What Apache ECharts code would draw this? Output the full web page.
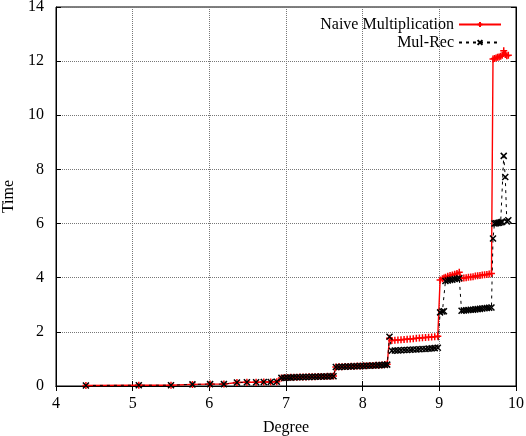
<!DOCTYPE html>
<html>
<head>
<meta charset="utf-8">
<script src="https://cdn.jsdelivr.net/npm/echarts@6/dist/echarts.min.js"></script>
<style>
  html, body { margin: 0; padding: 0; background: #fff; }
  #main { width: 526px; height: 436px; }
</style>
</head>
<body>
<div id="main"></div>
<script>
// x positions as plotted (Degree axis)
var degree = [
  4.39, 5.08, 5.50, 5.78, 6.01, 6.19, 6.36, 6.49, 6.61, 6.71, 6.80, 6.88,
  6.94, 6.98, 7.02, 7.06, 7.10, 7.14, 7.18, 7.22, 7.26, 7.30, 7.34, 7.38, 7.42, 7.46, 7.50, 7.54, 7.58, 7.62,
  7.65, 7.69, 7.73, 7.77, 7.81, 7.85, 7.89, 7.93, 7.97, 8.01, 8.05, 8.09, 8.13, 8.17, 8.21, 8.25, 8.29, 8.32,
  8.35, 8.38, 8.42, 8.46, 8.50, 8.54, 8.58, 8.62, 8.66, 8.70, 8.74, 8.78, 8.82, 8.86, 8.90, 8.94, 8.98,
  9.01, 9.04, 9.06,
  9.08, 9.11, 9.14, 9.17, 9.20, 9.23, 9.26,
  9.29, 9.32, 9.35, 9.38, 9.41, 9.44, 9.47, 9.50, 9.53, 9.56, 9.59, 9.62, 9.65, 9.68,
  9.70, 9.72, 9.74, 9.76, 9.78, 9.80, 9.82, 9.84, 9.86, 9.88, 9.90
];
var naiveTime = [
  0.02, 0.03, 0.03, 0.06, 0.07, 0.07, 0.13, 0.14, 0.14, 0.15, 0.15, 0.16,
  0.30, 0.31, 0.31, 0.32, 0.32, 0.32, 0.33, 0.33, 0.33, 0.34, 0.34, 0.34, 0.35, 0.35, 0.35, 0.36, 0.36, 0.37,
  0.70, 0.71, 0.71, 0.72, 0.72, 0.73, 0.73, 0.74, 0.74, 0.75, 0.75, 0.76, 0.76, 0.77, 0.77, 0.78, 0.79, 0.80,
  1.76, 1.68, 1.69, 1.70, 1.71, 1.72, 1.73, 1.74, 1.75, 1.76, 1.77, 1.78, 1.79, 1.80, 1.81, 1.82, 1.84,
  3.92, 3.96, 3.99,
  4.02, 4.05, 4.08, 4.10, 4.13, 4.16, 4.20,
  3.98, 3.99, 4.00, 4.02, 4.03, 4.04, 4.06, 4.07, 4.08, 4.10, 4.11, 4.12, 4.14, 4.16,
  12.08, 12.10, 12.12, 12.14, 12.15, 12.18, 12.22, 12.38, 12.25, 12.20, 12.22
];
var mulRecTime = [
  0.02, 0.03, 0.03, 0.06, 0.07, 0.07, 0.13, 0.14, 0.14, 0.15, 0.15, 0.16,
  0.30, 0.30, 0.31, 0.31, 0.32, 0.32, 0.32, 0.33, 0.33, 0.33, 0.34, 0.34, 0.34, 0.35, 0.35, 0.35, 0.36, 0.36,
  0.70, 0.70, 0.71, 0.71, 0.72, 0.72, 0.73, 0.73, 0.74, 0.74, 0.75, 0.75, 0.76, 0.76, 0.77, 0.77, 0.78, 0.79,
  1.82, 1.30, 1.31, 1.31, 1.32, 1.33, 1.33, 1.34, 1.35, 1.35, 1.36, 1.37, 1.37, 1.38, 1.39, 1.40, 1.41,
  2.72, 2.75, 2.76,
  3.88, 3.90, 3.92, 3.93, 3.95, 3.96, 3.98,
  2.78, 2.79, 2.80, 2.81, 2.82, 2.82, 2.83, 2.84, 2.85, 2.86, 2.87, 2.88, 2.89, 2.90,
  5.45, 6.00, 6.01, 6.02, 6.03, 6.05, 6.06, 8.50, 7.72, 6.08, 6.12
];
var seriesNames = ['Naive Multiplication', 'Mul-Rec'];

var serif = "'Liberation Serif', 'DejaVu Serif', serif";
var plusSymbol = 'path://M0,5L10,5M5,0L5,10';
var crossSymbol = 'path://M0,0L10,10M10,0L0,10';

function pairs(ys) {
  return degree.map(function (x, i) { return [x, ys[i]]; });
}

var chart = echarts.init(document.getElementById('main'), null, { renderer: 'canvas' });

var gridLine = { show: true, lineStyle: { color: '#777', type: 'dotted', width: 1 } };
var labelFont = { color: '#000', fontFamily: serif, fontSize: 16 };

var option = {
  animation: false,
  backgroundColor: '#fff',
  grid: {
    left: 56, right: 10, top: 7, bottom: 50,
    outerBoundsMode: 'none',
    containLabel: false,
    show: true, borderColor: '#000', borderWidth: 1
  },
  legend: {
    orient: 'vertical',
    right: 19,
    top: 11,
    align: 'right',
    itemWidth: 42,
    itemHeight: 6,
    itemGap: 1,
    textStyle: { color: '#000', fontFamily: serif, fontSize: 16, lineHeight: 17 },
    data: seriesNames
  },
  xAxis: [{
    type: 'value',
    min: 4, max: 10, interval: 1,
    name: 'Degree',
    nameLocation: 'middle',
    nameGap: 34,
    nameTextStyle: labelFont,
    axisLine: { lineStyle: { color: '#000', width: 1 } },
    axisTick: { inside: true, length: 5, lineStyle: { color: '#000' } },
    axisLabel: Object.assign({ margin: 10 }, labelFont),
    splitLine: gridLine
  }, {
    type: 'value',
    position: 'top',
    min: 4, max: 10, interval: 1,
    axisLine: { lineStyle: { color: '#000' } },
    axisTick: { inside: true, length: 5, lineStyle: { color: '#000' } },
    axisLabel: { show: false },
    splitLine: { show: false }
  }],
  yAxis: [{
    type: 'value',
    min: 0, max: 14, interval: 2,
    name: 'Time',
    nameLocation: 'middle',
    nameGap: 38,
    nameTextStyle: labelFont,
    axisLine: { lineStyle: { color: '#000', width: 1 } },
    axisTick: { inside: true, length: 5, lineStyle: { color: '#000' } },
    axisLabel: Object.assign({ margin: 12 }, labelFont),
    splitLine: gridLine
  }, {
    type: 'value',
    position: 'right',
    min: 0, max: 14, interval: 2,
    axisLine: { show: true, lineStyle: { color: '#000' } },
    axisTick: { show: true, inside: true, length: 5, lineStyle: { color: '#000' } },
    axisLabel: { show: false },
    splitLine: { show: false }
  }],
  series: [{
    name: seriesNames[0],
    type: 'line',
    data: pairs(naiveTime),
    symbol: plusSymbol,
    symbolSize: 7,
    showAllSymbol: true,
    lineStyle: { color: '#ff0000', width: 1.4 },
    itemStyle: { color: '#ff0000', borderColor: '#ff0000', borderWidth: 1.5 }
  }, {
    name: seriesNames[1],
    type: 'line',
    data: pairs(mulRecTime),
    symbol: crossSymbol,
    symbolSize: 6,
    showAllSymbol: true,
    lineStyle: { color: '#000', width: 1, type: [3, 4] },
    itemStyle: { color: '#000', borderColor: '#000', borderWidth: 1.5 }
  }]
};

chart.setOption(option);
</script>
</body>
</html>
